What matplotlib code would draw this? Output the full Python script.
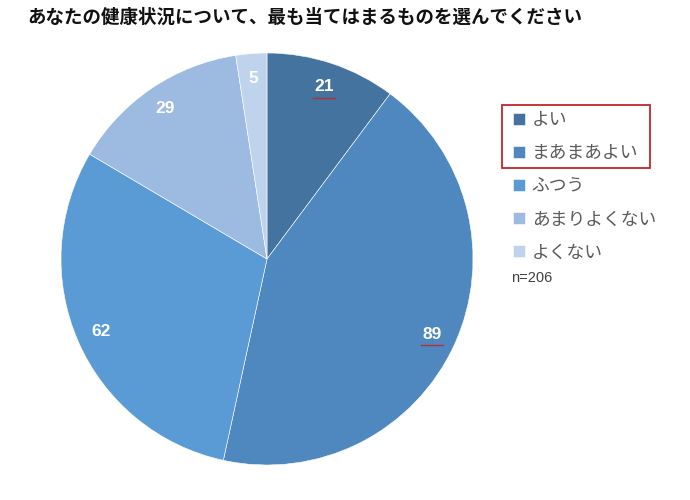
import matplotlib
matplotlib.use("Agg")
import matplotlib.pyplot as plt
from matplotlib.patches import Rectangle

plt.rcParams['font.family'] = ['Noto Sans CJK JP', 'DejaVu Sans']

title = "あなたの健康状況について、最も当てはまるものを選んでください"
categories = ["よい", "まあまあよい", "ふつう", "あまりよくない", "よくない"]
values = [21, 89, 62, 29, 5]
colors = ["#44739F", "#4E88BE", "#5B9BD5", "#9DBAE0", "#C0D3EC"]
n_label = "n=206"

fig = plt.figure(figsize=(6.9, 5.0), dpi=100)
cx, cy, r = 267, 259, 206
ax = fig.add_axes([(cx - r) / 690, (500 - cy - r) / 500, 2 * r / 690, 2 * r / 500])

wedges, texts, autotexts = ax.pie(
    values, colors=colors, startangle=90, counterclock=False,
    autopct=lambda p: f"{round(p * sum(values) / 100):d}", pctdistance=0.88,
    wedgeprops=dict(edgecolor="#FFFFFF", linewidth=0.4),
    textprops=dict(color="white", fontsize=12.5, fontweight="bold",
                   family=["Liberation Sans", "DejaVu Sans"]))
ax.set_xlim(-1, 1)
ax.set_ylim(-1, 1)
ax.set_aspect("equal")

# red underline marks under two labels
for i in (0, 1):
    x, y = autotexts[i].get_position()
    ax.plot([x - 0.055, x + 0.055], [y - 0.055, y - 0.055], color="#B03040", lw=1.0)

fig.text(27 / 690, 1 - 17 / 500, title, fontsize=13.3, fontweight="bold",
         color="#111111", va="center", ha="left")

leg = fig.legend(wedges, categories, loc="upper left",
                 bbox_to_anchor=(506 / 690, 1 - 104 / 500), frameon=False,
                 fontsize=12.8, labelcolor="#595959", handlelength=0.65,
                 handleheight=0.65, handletextpad=0.4, labelspacing=0.85,
                 borderaxespad=0)

fig.text(511 / 690, 1 - 278 / 500, n_label, fontsize=10.5, color="#404040",
         va="center", ha="left", family=["Liberation Sans", "DejaVu Sans"])

fig.patches.append(Rectangle((502 / 690, 1 - 168 / 500), 148 / 690, 63 / 500,
                             transform=fig.transFigure, fill=False,
                             edgecolor="#C0262D", linewidth=1.3))

fig.savefig("out.png", dpi=100, facecolor="white")
